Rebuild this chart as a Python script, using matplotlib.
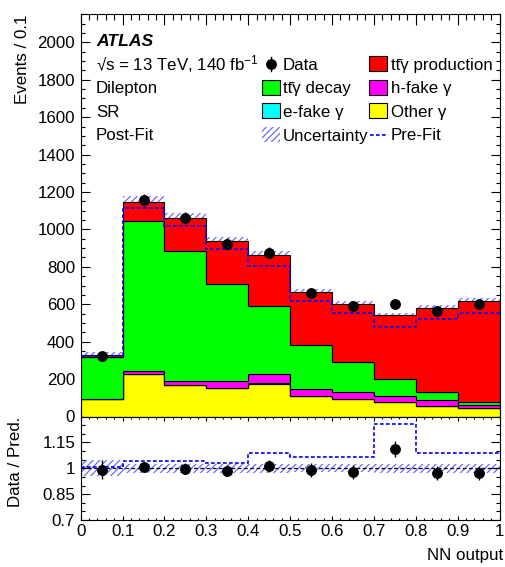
import numpy as np
import matplotlib
matplotlib.use("Agg")
import matplotlib.pyplot as plt
from matplotlib.patches import Rectangle
from matplotlib.lines import Line2D
from matplotlib.ticker import MultipleLocator, FixedLocator, FixedFormatter

plt.rcParams["font.family"] = ["Liberation Sans", "DejaVu Sans"]
plt.rcParams["mathtext.fontset"] = "custom"
plt.rcParams["mathtext.rm"] = "Liberation Sans"
plt.rcParams["mathtext.it"] = "Liberation Sans:italic"
plt.rcParams["hatch.linewidth"] = 0.9

# ---- data ----
edges = [0.0, 0.1, 0.2, 0.3, 0.4, 0.5, 0.6, 0.7, 0.8, 0.9, 1.0]
other_gamma = [94, 225, 166, 150, 175, 109, 93, 75, 55, 45]
efake_gamma = [1, 3, 3, 3, 3, 2, 2, 2, 2, 1]
hfake_gamma = [1, 14, 22, 36, 47, 35, 37, 32, 29, 18]
ttg_decay = [222, 804, 696, 518, 368, 237, 157, 92, 46, 16]
ttg_prod = [11, 103, 175, 230, 271, 285, 313, 339, 449, 538]
data = [326, 1158, 1060, 923, 875, 661, 590, 600, 565, 602]
prefit = [324, 1112, 1017, 895, 805, 620, 554, 478, 520, 552]
rel_unc = [0.045, 0.026, 0.025, 0.025, 0.025, 0.024, 0.024, 0.025, 0.026, 0.027]

components = [
    (other_gamma, "#ffff00"),
    (efake_gamma, "#00ffff"),
    (hfake_gamma, "#ff00ff"),
    (ttg_decay, "#00ff00"),
    (ttg_prod, "#ff0000"),
]
hatch_col = "#6a6aff"
hatch = "/////"

W, H = 505, 567
fig = plt.figure(figsize=(W / 100, H / 100), dpi=100)


def fx(x):
    return x / W


def fy(y):
    return 1 - y / H


left, right = 80.7, 499.5
ax = fig.add_axes([fx(left), fy(416.5), fx(right - left), (416.5 - 14.3) / H])
rax = fig.add_axes([fx(left), fy(520), fx(right - left), (520 - 416.5) / H])

edges = np.array(edges)
centers = 0.5 * (edges[1:] + edges[:-1])
data = np.array(data, dtype=float)
prefit = np.array(prefit, dtype=float)
rel_unc = np.array(rel_unc)

# ---- stack ----
bottom = np.zeros(len(centers))
for vals, col in components:
    top = bottom + np.array(vals)
    ax.stairs(top, edges, baseline=bottom, fill=True, facecolor=col,
              edgecolor="black", lw=0.8, zorder=2)
    bottom = top
total = bottom

ax.stairs(total * (1 + rel_unc), edges, baseline=total * (1 - rel_unc), fill=True,
          facecolor="none", edgecolor=hatch_col, hatch=hatch, lw=0, zorder=1)
ax.stairs(prefit, edges, baseline=None, color="#0000ff", lw=1.2,
          linestyle=(0, (2.2, 1.4)), zorder=3)
ax.errorbar(centers, data, yerr=np.sqrt(data), fmt="o", color="black",
            ms=6.8, elinewidth=1.0, capsize=0, zorder=4)

ax.set_xlim(0, 1)
ax.set_ylim(0, 2150)
ax.xaxis.set_major_locator(MultipleLocator(0.1))
ax.xaxis.set_minor_locator(MultipleLocator(0.02))
ax.yaxis.set_major_locator(MultipleLocator(200))
ax.yaxis.set_minor_locator(MultipleLocator(50))
ax.tick_params(axis="x", labelbottom=False)
ax.tick_params(which="both", direction="in", top=True, right=True, width=0.8,
               labelsize=12.2, pad=4)
ax.tick_params(axis="x", which="major", length=8)
ax.tick_params(axis="x", which="minor", length=4)
ax.tick_params(axis="y", which="major", length=6.5)
ax.tick_params(axis="y", which="minor", length=3.2)

# ---- ratio ----
rax.stairs(1 + rel_unc, edges, baseline=1 - rel_unc, fill=True, facecolor="none",
           edgecolor=hatch_col, hatch=hatch, lw=0, zorder=1)
rax.axhline(1, color="black", lw=0.9, linestyle=(0, (3, 2)), zorder=2)
rax.stairs(data / prefit, edges, baseline=None, color="#0000ff", lw=1.2,
           linestyle=(0, (2.2, 1.4)), zorder=3)
rax.errorbar(centers, data / total, yerr=np.sqrt(data) / total, fmt="o",
             color="black", ms=6.8, elinewidth=1.0, capsize=0, zorder=4)
rax.set_xlim(0, 1)
rax.set_ylim(0.7, 1.3)
rax.xaxis.set_major_locator(FixedLocator(edges))
rax.xaxis.set_major_formatter(
    FixedFormatter(["0", "0.1", "0.2", "0.3", "0.4", "0.5", "0.6", "0.7", "0.8", "0.9", "1"]))
rax.xaxis.set_minor_locator(MultipleLocator(0.02))
rax.yaxis.set_major_locator(FixedLocator([0.7, 0.85, 1.0, 1.15]))
rax.yaxis.set_major_formatter(FixedFormatter(["0.7", "0.85", "1", "1.15"]))
rax.yaxis.set_minor_locator(MultipleLocator(0.05))
rax.tick_params(which="both", direction="in", top=True, right=True, width=0.8,
                labelsize=12.2, pad=4)
rax.tick_params(axis="x", which="major", length=2.6, pad=3)
rax.tick_params(axis="x", which="minor", length=1.4)
rax.tick_params(axis="y", which="major", length=6.5)
rax.tick_params(axis="y", which="minor", length=3.2)
for a in (ax, rax):
    for s in a.spines.values():
        s.set_linewidth(0.8)

# ---- axis titles ----
fig.text(fx(23), fy(14.3), "Events / 0.1", rotation=90, ha="center", va="top",
         fontsize=12.2)
fig.text(fx(16), fy(417), "Data / Pred.", rotation=90, ha="center", va="top",
         fontsize=12.2)
fig.text(fx(503), fy(548), "NN output", ha="right", va="top", fontsize=12.2)

# ---- labels ----
fs = 12.2
fig.text(fx(96), fy(46), "ATLAS", fontsize=12.6, fontweight="bold",
         fontstyle="italic", va="baseline")
fig.text(fx(96), fy(70), "\u221As = 13 TeV, 140 fb$^{-1}$", fontsize=fs,
         va="baseline")
fig.text(fx(96), fy(93.5), "Dilepton", fontsize=fs, va="baseline")
fig.text(fx(96), fy(117), "SR", fontsize=fs, va="baseline")
fig.text(fx(96), fy(140.5), "Post-Fit", fontsize=fs, va="baseline")

# ---- legend ----
rows = [70, 93.5, 117, 140.5]
c1_box, c2_box = 262, 369
c1_txt, c2_txt = 283, 391
box_w, box_h = 18, 15


def box(xpix, base, col):
    fig.add_artist(Rectangle((fx(xpix), fy(base - 6.5 + box_h / 2)), box_w / W, box_h / H,
                             transform=fig.transFigure, facecolor=col,
                             edgecolor="black", lw=0.8))


fig.add_artist(Line2D([fx(271)], [fy(63.5)], marker="o", color="black", ms=6.8,
                      transform=fig.transFigure))
fig.add_artist(Line2D([fx(271), fx(271)], [fy(56.5), fy(70.5)], color="black",
                      lw=1.0, transform=fig.transFigure))
fig.text(fx(c1_txt), fy(rows[0]), "Data", fontsize=fs, va="baseline")
box(c2_box, rows[0], "#ff0000")
fig.text(fx(c2_txt), fy(rows[0]), "t\u0074\u0304\u03b3 production", fontsize=fs, va="baseline")
box(c1_box, rows[1], "#00ff00")
fig.text(fx(c1_txt), fy(rows[1]), "t\u0074\u0304\u03b3 decay", fontsize=fs, va="baseline")
box(c2_box, rows[1], "#ff00ff")
fig.text(fx(c2_txt), fy(rows[1]), "h-fake \u03b3", fontsize=fs, va="baseline")
box(c1_box, rows[2], "#00ffff")
fig.text(fx(c1_txt), fy(rows[2]), "e-fake \u03b3", fontsize=fs, va="baseline")
box(c2_box, rows[2], "#ffff00")
fig.text(fx(c2_txt), fy(rows[2]), "Other \u03b3", fontsize=fs, va="baseline")
fig.add_artist(Rectangle((fx(c1_box), fy(rows[3] - 6.5 + box_h / 2)), box_w / W, box_h / H,
                         transform=fig.transFigure, facecolor="none",
                         edgecolor=hatch_col, hatch=hatch, lw=0))
fig.text(fx(c1_txt), fy(rows[3]), "Uncertainty", fontsize=fs, va="baseline")
fig.add_artist(Line2D([fx(370), fx(388)], [fy(134.5), fy(134.5)], color="#0000ff",
                      lw=1.2, linestyle=(0, (2.2, 1.4)), transform=fig.transFigure))
fig.text(fx(c2_txt), fy(rows[3]), "Pre-Fit", fontsize=fs, va="baseline")

fig.savefig("out.png", dpi=100)
